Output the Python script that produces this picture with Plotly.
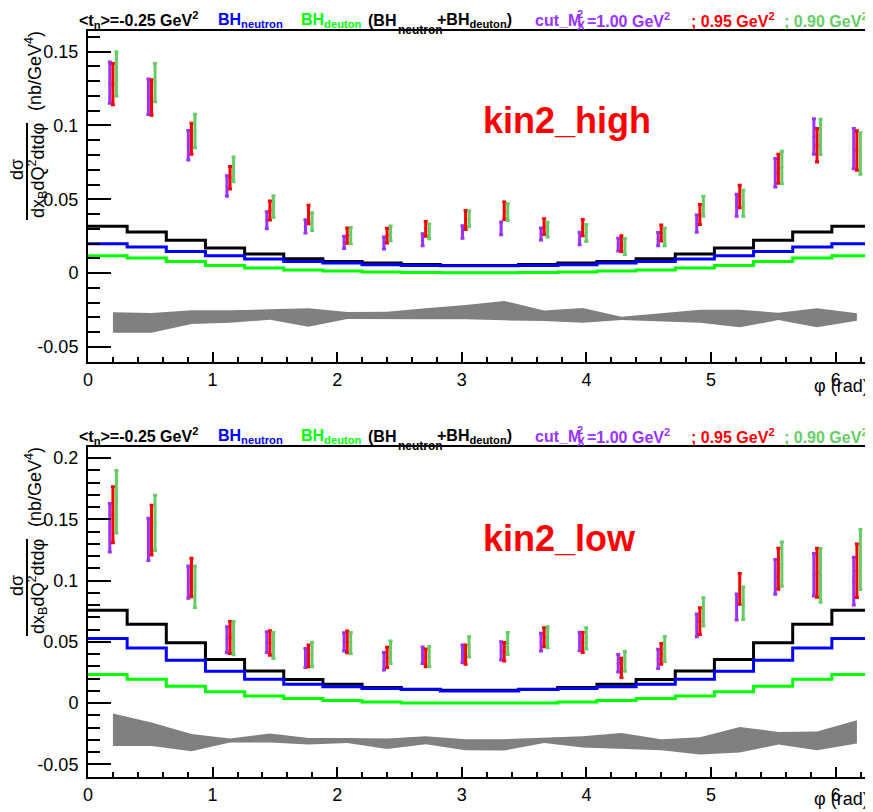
import math
import plotly.graph_objects as go

# phi bin positions of the measured points (rad)
phi = [0.20, 0.51, 0.83, 1.14, 1.46, 1.77, 2.08, 2.40, 2.71, 3.03,
       3.34, 3.66, 3.97, 4.28, 4.60, 4.91, 5.23, 5.54, 5.85, 6.17]
edges = [k * math.pi / 10 for k in range(21)]

# ---- kin2_high ----
high_m100 = [0.129, 0.1195, 0.0866, 0.059, 0.0358, 0.0317, 0.0208, 0.0204, 0.0226, 0.0279,
             0.0303, 0.0265, 0.0235, 0.0193, 0.0231, 0.0335, 0.046, 0.068, 0.0925, 0.0843]
high_m100_err = [0.014, 0.012, 0.010, 0.007, 0.0058, 0.0045, 0.0042, 0.004, 0.004, 0.0042,
                 0.0043, 0.004, 0.0042, 0.0043, 0.0045, 0.0058, 0.0074, 0.0096, 0.012, 0.0136]
high_m095 = [0.128, 0.119, 0.091, 0.0646, 0.0424, 0.0397, 0.0254, 0.0254, 0.030, 0.036,
             0.0422, 0.0315, 0.0308, 0.020, 0.0272, 0.0397, 0.0519, 0.0707, 0.0866, 0.083]
high_m095_err = [0.014, 0.012, 0.0105, 0.0077, 0.0065, 0.0062, 0.0051, 0.005, 0.005, 0.0065,
                 0.0059, 0.0054, 0.0055, 0.0053, 0.0054, 0.0067, 0.0077, 0.0099, 0.0113, 0.0134]
high_m090 = [0.135, 0.129, 0.0963, 0.0703, 0.0449, 0.0349, 0.0254, 0.027, 0.0283, 0.0367,
             0.0413, 0.0294, 0.0272, 0.018, 0.0245, 0.0453, 0.0473, 0.0716, 0.0923, 0.081]
high_m090_err = [0.015, 0.013, 0.0113, 0.0084, 0.0073, 0.006, 0.0055, 0.005, 0.005, 0.0053,
                 0.0057, 0.005, 0.0057, 0.0054, 0.006, 0.0068, 0.0088, 0.011, 0.012, 0.014]
high_bh_sum = [0.0317, 0.0279, 0.0222, 0.017, 0.0129, 0.0097, 0.0079, 0.0068, 0.0059, 0.0052,
               0.0052, 0.0059, 0.0068, 0.0079, 0.0097, 0.0129, 0.017, 0.0222, 0.0279, 0.0317]
high_bh_neutron = [0.0199, 0.0177, 0.0147, 0.0118, 0.0095, 0.0079, 0.0068, 0.0056, 0.0052, 0.005,
                   0.005, 0.0052, 0.0056, 0.0068, 0.0079, 0.0095, 0.0118, 0.0147, 0.0177, 0.0199]
high_bh_deuton = [0.0118, 0.0102, 0.0079, 0.0052, 0.0034, 0.0022, 0.0014, 0.0007, 0.0005, 0.0002,
                  0.0002, 0.0005, 0.0007, 0.0014, 0.0022, 0.0034, 0.0052, 0.0079, 0.0102, 0.0118]
high_sys_up = [-0.0265, -0.027, -0.0252, -0.0252, -0.0245, -0.0238, -0.0263, -0.0261, -0.0238, -0.0216,
               -0.0188, -0.0254, -0.0236, -0.0295, -0.0272, -0.0248, -0.0248, -0.0268, -0.0238, -0.0272]
high_sys_lo = [-0.0404, -0.0404, -0.0345, -0.0336, -0.0316, -0.0363, -0.0311, -0.0313, -0.0313, -0.0313,
               -0.032, -0.0324, -0.0336, -0.0318, -0.0327, -0.0336, -0.0367, -0.0318, -0.0367, -0.0322]

# ---- kin2_low ----
low_m100 = [0.143, 0.1336, 0.0987, 0.0516, 0.0497, 0.0368, 0.0499, 0.0341, 0.039, 0.0401,
            0.0426, 0.0497, 0.0502, 0.0325, 0.036, 0.0633, 0.0783, 0.103, 0.1047, 0.0995]
low_m100_err = [0.0198, 0.0173, 0.0132, 0.0106, 0.0084, 0.0078, 0.0075, 0.0072, 0.0068, 0.0072,
                0.0075, 0.0072, 0.0075, 0.0071, 0.0079, 0.0093, 0.0106, 0.0142, 0.0174, 0.0195]
low_m095 = [0.1537, 0.1412, 0.1025, 0.0535, 0.049, 0.0385, 0.0499, 0.0372, 0.0368, 0.0395,
            0.0418, 0.0537, 0.0494, 0.0287, 0.0401, 0.0668, 0.0932, 0.1096, 0.1063, 0.108]
low_m095_err = [0.0229, 0.0203, 0.0157, 0.013, 0.01, 0.0088, 0.0088, 0.0083, 0.0072, 0.0078,
                0.0076, 0.0078, 0.0082, 0.0078, 0.0084, 0.0109, 0.0125, 0.0167, 0.02, 0.0218]
low_m090 = [0.1643, 0.1471, 0.0949, 0.053, 0.047, 0.0396, 0.0489, 0.0415, 0.0379, 0.0458,
            0.0486, 0.0537, 0.0527, 0.0341, 0.044, 0.0744, 0.0815, 0.1134, 0.1042, 0.1172]
low_m090_err = [0.0256, 0.0225, 0.0169, 0.0136, 0.0106, 0.01, 0.0086, 0.0092, 0.0082, 0.0082,
                0.0089, 0.0086, 0.0087, 0.0082, 0.0102, 0.0116, 0.0133, 0.0181, 0.022, 0.0245]
low_bh_sum = [0.0758, 0.0644, 0.0491, 0.0355, 0.0262, 0.0192, 0.0154, 0.0127, 0.0113, 0.0105,
              0.0105, 0.0113, 0.0127, 0.0154, 0.0192, 0.0262, 0.0355, 0.0491, 0.0644, 0.0758]
low_bh_neutron = [0.0527, 0.045, 0.035, 0.026, 0.0194, 0.0154, 0.0132, 0.0118, 0.011, 0.0098,
                  0.0098, 0.011, 0.0118, 0.0132, 0.0154, 0.0194, 0.026, 0.035, 0.045, 0.0527]
low_bh_deuton = [0.0233, 0.0194, 0.0137, 0.0091, 0.0058, 0.0037, 0.002, 0.0009, 0.0001, 0.0,
                 0.0, 0.0001, 0.0009, 0.002, 0.0037, 0.0058, 0.0091, 0.0137, 0.0194, 0.0233]
low_sys_up = [-0.0086, -0.0159, -0.0252, -0.029, -0.0249, -0.0285, -0.0285, -0.029, -0.0271, -0.0296,
              -0.0296, -0.0282, -0.0271, -0.0244, -0.0296, -0.0279, -0.0195, -0.0236, -0.0233, -0.0141]
low_sys_lo = [-0.035, -0.035, -0.0394, -0.0323, -0.0323, -0.0339, -0.0326, -0.0375, -0.0337, -0.0386,
              -0.0388, -0.0326, -0.0364, -0.0377, -0.0386, -0.0421, -0.0404, -0.0339, -0.0386, -0.0331]

PURPLE = '#9933ff'
RED = '#ff0000'
LGREEN = '#66cc66'
FONT = 'Liberation Sans, Arial, sans-serif'

# the page body has an 8px margin, so the figure is 8px smaller and everything
# below is given in window pixels and shifted back by OFF
OFF = 8
W, H = 873 - OFF, 812 - OFF
L, R, T, B = 88 - OFF, 2, 31 - OFF, 35


def px(x):
    return (x - OFF - L) / (W - L - R)


def py(y):
    return (H - B - (y - OFF)) / (H - T - B)


fig = go.Figure()


def add_panel(xa, ya, sys_up, sys_lo, hists, cuts):
    fig.add_trace(go.Scatter(x=phi + phi[::-1], y=sys_up + sys_lo[::-1], fill='toself',
                             fillcolor='#808080', line=dict(width=0), mode='lines',
                             xaxis=xa, yaxis=ya, hoverinfo='skip'))
    for vals, col in hists:
        fig.add_trace(go.Scatter(x=edges, y=vals + [vals[-1]], mode='lines', line_shape='hv',
                                 line=dict(color=col, width=3), xaxis=xa, yaxis=ya))
    for vals, err, col, off in cuts:
        fig.add_trace(go.Scatter(x=[p + off for p in phi], y=vals, mode='markers',
                                 marker=dict(size=3, color=col),
                                 error_y=dict(type='data', array=err, color=col, thickness=3, width=2),
                                 xaxis=xa, yaxis=ya))


add_panel('x', 'y', high_sys_up, high_sys_lo,
          [(high_bh_sum, 'black'), (high_bh_neutron, '#0000ff'), (high_bh_deuton, '#00ff00')],
          [(high_m100, high_m100_err, PURPLE, -0.025), (high_m095, high_m095_err, RED, 0.0),
           (high_m090, high_m090_err, LGREEN, 0.028)])
add_panel('x2', 'y2', low_sys_up, low_sys_lo,
          [(low_bh_sum, 'black'), (low_bh_neutron, '#0000ff'), (low_bh_deuton, '#00ff00')],
          [(low_m100, low_m100_err, PURPLE, -0.025), (low_m095, low_m095_err, RED, 0.0),
           (low_m090, low_m090_err, LGREEN, 0.028)])

xax = dict(range=[0, 2 * math.pi], tickvals=[0, 1, 2, 3, 4, 5, 6], ticks='inside', ticklen=10,
           tickwidth=2, tickcolor='black', showline=True, linecolor='black', linewidth=2,
           mirror=True, showgrid=False, zeroline=False, automargin=False,
           tickfont=dict(family=FONT, size=18, color='black'),
           minor=dict(ticks='inside', ticklen=5, dtick=0.2, tick0=0, tickwidth=2,
                      tickcolor='black', showgrid=False))
yax = dict(ticks='inside', ticklen=23, tickwidth=2, tickcolor='black', showline=True,
           linecolor='black', linewidth=2, mirror=True, showgrid=False, zeroline=False,
           automargin=False,
           tickfont=dict(family=FONT, size=18, color='black'), ticklabelstandoff=4,
           minor=dict(ticks='inside', ticklen=12, dtick=0.01, tick0=0, tickwidth=2,
                      tickcolor='black', showgrid=False))

top_dom = [py(362), 1]
bot_dom = [0, py(447)]

fig.update_layout(
    width=W, height=H, margin=dict(l=L, r=R, t=T, b=B, autoexpand=False),
    paper_bgcolor='white', plot_bgcolor='white', showlegend=False,
    font=dict(family=FONT, color='black'),
    xaxis=dict(xax, anchor='y'),
    yaxis=dict(yax, domain=top_dom, anchor='x', range=[-0.0602, 0.164],
               tickvals=[-0.05, 0, 0.05, 0.1, 0.15], ticktext=['-0.05', '0', '0.05', '0.1', '0.15']),
    xaxis2=dict(xax, anchor='y2'),
    yaxis2=dict(yax, domain=bot_dom, anchor='x2', range=[-0.0604, 0.209],
                tickvals=[-0.05, 0, 0.05, 0.1, 0.15, 0.2],
                ticktext=['-0.05', '0', '0.05', '0.1', '0.15', '0.2']),
)

ann = []


def text(x, y, s, color='black', size=16, bold=True, xanchor='left', angle=0):
    ann.append(dict(x=px(x), y=py(y), xref='paper', yref='paper', text=('<b>%s</b>' % s) if bold else s,
                    showarrow=False, xanchor=xanchor, yanchor='middle', textangle=angle,
                    font=dict(family=FONT, size=size, color=color)))


def header(top):
    yc = top - 11
    text(77, yc, '&lt;t<sub>n</sub>&gt;=-0.25 GeV<sup>2</sup>')
    text(216, yc, 'BH<sub>neutron</sub>', '#0000ff')
    text(299, yc, 'BH<sub>deuton</sub>', '#00ff00')
    text(366, yc, '(BH')
    text(396, yc + 10, 'neutron', size=12)
    text(435, yc, '+BH<sub>deuton</sub>)')
    text(533, yc, 'cut_M', PURPLE)
    text(575, yc - 6, '2', PURPLE, size=11)
    text(575, yc + 6, 'X', PURPLE, size=12)
    text(585, yc, '=1.00 GeV<sup>2</sup>', PURPLE)
    text(689, yc, '; 0.95 GeV<sup>2</sup>', RED)
    text(782, yc, '; 0.90 GeV<sup>2</sup>', LGREEN)


def ytitle(top):
    text(33, top + 40, '(nb/GeV<sup>4</sup>)', size=18, bold=False, xanchor='center', angle=-90)
    text(17, top + 139, 'dσ', size=18, bold=False, xanchor='center', angle=-90)
    text(37, top + 140, 'dx<sub>B</sub>dQ<sup>2</sup>dtdφ', size=18, bold=False, xanchor='center', angle=-90)
    fig.add_shape(type='line', xref='paper', yref='paper', x0=px(27), x1=px(27),
                  y0=py(top + 92), y1=py(top + 189), line=dict(color='black', width=2))


header(31)
header(447)
ytitle(31)
ytitle(447)
text(481, 121, 'kin2_high', RED, size=36)
text(481, 538, 'kin2_low', RED, size=36)
text(871, 386, 'φ (rad)', size=18, bold=False, xanchor='right')
text(871, 799, 'φ (rad)', size=18, bold=False, xanchor='right')

fig.update_layout(annotations=ann)
fig.write_html('out.html')
